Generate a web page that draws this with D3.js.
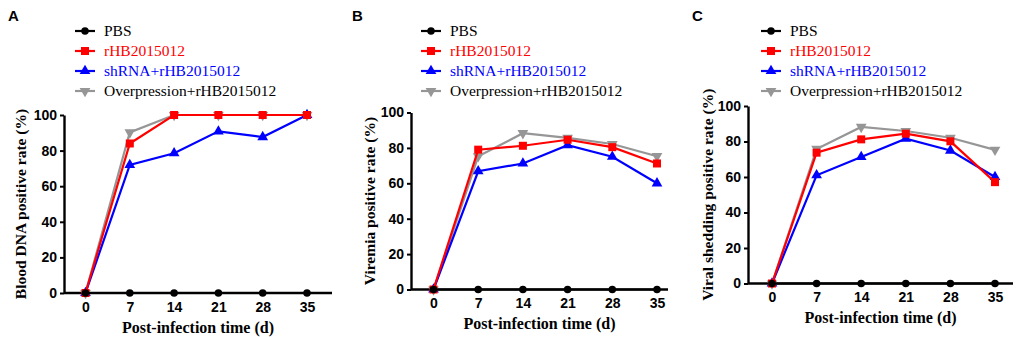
<!DOCTYPE html>
<html>
<head>
<meta charset="utf-8">
<script src="https://cdn.jsdelivr.net/npm/d3@7"></script>
<style>
    html, body { margin: 0; padding: 0; background: #fff; }
    svg { display: block; }
</style>
</head>
<body>
<div id="chart"></div>
<script>
// ---- data ----
const days = [0, 7, 14, 21, 28, 35];
const yTicks = [0, 20, 40, 60, 80, 100];

const seriesNames = ['PBS', 'rHB2015012', 'shRNA+rHB2015012', 'Overpression+rHB2015012'];

// Panel A - blood DNA
const bloodPBS = [0, 0, 0, 0, 0, 0];
const bloodRHB = [0, 84, 100, 100, 100, 100];
const bloodShRNA = [0, 72, 78.5, 90.8, 87.6, 100];
const bloodOver = [0, 90.2, 100, 100, 100, 100];

// Panel B - viremia
const viremiaPBS = [0, 0, 0, 0, 0, 0];
const viremiaRHB = [0, 79, 81.2, 84.6, 80.4, 71.2];
const viremiaShRNA = [0, 66.8, 71.2, 81.5, 75, 60];
const viremiaOver = [0, 75.2, 88.3, 85.7, 82.2, 75.3];

// Panel C - viral shedding
const sheddingPBS = [0, 0, 0, 0, 0, 0];
const sheddingRHB = [0, 73.7, 81.2, 84.4, 80.1, 57.1];
const sheddingShRNA = [0, 61, 71.3, 81.6, 74.9, 60];
const sheddingOver = [0, 75.8, 88.2, 85.9, 82.1, 75.3];

const panels = [
    { letter: 'A', yLabel: 'Blood DNA positive rate (%)',
      values: [bloodPBS, bloodRHB, bloodShRNA, bloodOver],
      axisLeft: 64, xFirst: 85.5, xLast: 307, axisRight: 332, yTop: 115, yBottom: 293,
      letterX: 8, yLabelX: 21, xLabelY: 333, legendX: 75, legendY: 31 },
    { letter: 'B', yLabel: 'Viremia positive rate (%)',
      values: [viremiaPBS, viremiaRHB, viremiaShRNA, viremiaOver],
      axisLeft: 411, xFirst: 433.5, xLast: 657, axisRight: 668, yTop: 112.5, yBottom: 289.5,
      letterX: 352, yLabelX: 370, xLabelY: 329, legendX: 421, legendY: 31 },
    { letter: 'C', yLabel: 'Viral shedding positive rate (%)',
      values: [sheddingPBS, sheddingRHB, sheddingShRNA, sheddingOver],
      axisLeft: 748, xFirst: 772, xLast: 995, axisRight: 1013, yTop: 106, yBottom: 283.5,
      letterX: 692, yLabelX: 708, xLabelY: 323, legendX: 761, legendY: 31 }
];

const styles = [
    { color: '#000000', text: '#000000', symbol: d3.symbolCircle, size: 44, rotate: 0 },
    { color: '#ff0000', text: '#ff0000', symbol: d3.symbolSquare, size: 64, rotate: 0 },
    { color: '#0000ff', text: '#0000ff', symbol: d3.symbolTriangle, size: 50, rotate: 0 },
    { color: '#969696', text: '#000000', symbol: d3.symbolTriangle, size: 50, rotate: 180 }
];
// grey first, then blue, red, black on top
const drawOrder = [3, 2, 1, 0];

const svg = d3.select('#chart')
    .append('svg')
    .attr('width', 1021)
    .attr('height', 337);

const serif = '"Liberation Serif", "Times New Roman", serif';
const sans = '"Liberation Sans", Arial, sans-serif';

panels.forEach(p => {
    const g = svg.append('g');

    const x = d3.scaleLinear().domain([0, 35]).range([p.xFirst, p.xLast]);
    const y = d3.scaleLinear().domain([0, 100]).range([p.yBottom, p.yTop]);

    // panel letter
    g.append('text')
        .attr('x', p.letterX)
        .attr('y', 21)
        .style('font-family', sans)
        .style('font-weight', 'bold')
        .style('font-size', '15px')
        .text(p.letter);

    // x axis
    const xAxis = g.append('g')
        .attr('transform', `translate(0,${p.yBottom})`)
        .call(d3.axisBottom(x).tickValues(days).tickSize(0).tickPadding(9));
    xAxis.select('.domain')
        .attr('d', `M${p.axisLeft},0H${p.axisRight}`)
        .attr('stroke', '#000')
        .attr('stroke-width', 2.4);
    xAxis.selectAll('text')
        .style('font-family', sans)
        .style('font-weight', 'bold')
        .style('font-size', '14px')
        .attr('fill', '#000');

    // y axis
    const yAxis = g.append('g')
        .attr('transform', `translate(${p.axisLeft},0)`)
        .call(d3.axisLeft(y).tickValues(yTicks).tickSize(4).tickSizeOuter(0).tickPadding(3));
    yAxis.select('.domain')
        .attr('stroke', '#000')
        .attr('stroke-width', 2.4);
    yAxis.selectAll('.tick line')
        .attr('stroke', '#000')
        .attr('stroke-width', 2);
    yAxis.selectAll('text')
        .style('font-family', sans)
        .style('font-weight', 'bold')
        .style('font-size', '14px')
        .attr('fill', '#000');

    // axis titles
    g.append('text')
        .attr('x', (p.axisLeft + p.axisRight) / 2)
        .attr('y', p.xLabelY)
        .attr('text-anchor', 'middle')
        .style('font-family', serif)
        .style('font-weight', 'bold')
        .style('font-size', '16px')
        .text('Post-infection time (d)');

    g.append('text')
        .attr('transform', `translate(${p.yLabelX},${(p.yTop + p.yBottom) / 2}) rotate(-90)`)
        .attr('text-anchor', 'middle')
        .attr('dy', '0.35em')
        .style('font-family', serif)
        .style('font-weight', 'bold')
        .style('font-size', '15.5px')
        .text(p.yLabel);

    // lines and markers
    const line = d3.line()
        .x((d, i) => x(days[i]))
        .y(d => y(d));

    drawOrder.forEach(k => {
        const st = styles[k];
        const vals = p.values[k];
        g.append('path')
            .datum(vals)
            .attr('fill', 'none')
            .attr('stroke', st.color)
            .attr('stroke-width', 2.2)
            .attr('d', line);

        g.selectAll(null)
            .data(vals)
            .enter()
            .append('path')
            .attr('d', d3.symbol().type(st.symbol).size(st.size))
            .attr('transform', (d, i) => `translate(${x(days[i])},${y(d)}) rotate(${st.rotate})`)
            .attr('fill', st.color);
    });

    // legend
    seriesNames.forEach((name, k) => {
        const st = styles[k];
        const cy = p.legendY + k * 20;
        const row = g.append('g');
        row.append('line')
            .attr('x1', p.legendX)
            .attr('x2', p.legendX + 20)
            .attr('y1', cy)
            .attr('y2', cy)
            .attr('stroke', st.color)
            .attr('stroke-width', 2.2);
        row.append('path')
            .attr('d', d3.symbol().type(st.symbol).size(st.size))
            .attr('transform', `translate(${p.legendX + 10},${cy}) rotate(${st.rotate})`)
            .attr('fill', st.color);
        row.append('text')
            .attr('x', p.legendX + 29)
            .attr('y', cy + 5)
            .style('font-family', serif)
            .style('font-size', '15.5px')
            .attr('fill', st.text)
            .text(name);
    });
});
</script>
</body>
</html>
